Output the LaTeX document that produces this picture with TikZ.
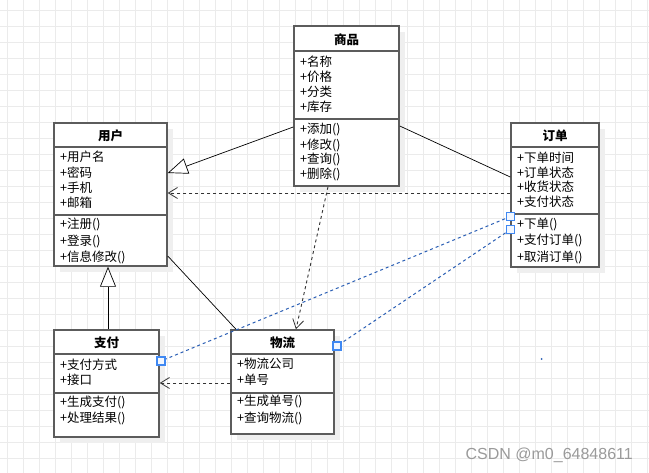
\documentclass[tikz,border=0pt]{standalone}
\usepackage{fontspec}
\newfontfamily\cjk{Noto Sans CJK SC}
\newfontfamily\wmfont{Liberation Sans}
\usetikzlibrary{arrows.meta,fit}

\definecolor{gridc}{HTML}{EBEBEB}
\definecolor{boxc}{HTML}{5C5C5C}
\definecolor{shadowc}{HTML}{EFEFEF}
\definecolor{selblue}{HTML}{2B5FB5}
\definecolor{handlec}{HTML}{3F88F2}
\definecolor{handlefill}{HTML}{F2F7FF}
\definecolor{wmc}{HTML}{9A9A9A}

% one class box: name, left, top, right, bottom, header line y, separator y, title
\newcommand\classbox[8]{%
  \fill[shadowc] (#2+6,#3+6) rectangle (#4+6,#5+6);
  \node[classframe, fit={(#2,#3) (#4,#5)}] (#1) {};
  \draw[classframe] (#1.west |- 0,#6) -- (#1.east |- 0,#6);
  \draw[classframe] (#1.west |- 0,#7) -- (#1.east |- 0,#7);
  \node[titletxt] (#1-title) at ({(#2+#4)/2},{(#3+#6)/2+1}) {#8};
}
% rows of members: prefix, x, list of text/centre-y
\newcommand\memberrows[3]{%
  \foreach \t/\yy [count=\i] in {#3}
    \node[rowtxt] (#1-\i) at (#2,\yy+4.7) {\t};
}

\begin{document}
\begin{tikzpicture}[x=1pt,y=-1pt,
  gridline/.style={draw=gridc, line width=0.8pt},
  classframe/.style={draw=boxc, line width=1.5pt, fill=white, inner sep=0pt},
  titletxt/.style={font=\cjk\bfseries\fontsize{12.5}{14}\selectfont, inner sep=0pt},
  rowtxt/.style={font=\cjk\fontsize{12.5}{14}\selectfont, anchor=base west, inner sep=0pt},
  assoc/.style={draw=black, line width=0.7pt},
  genarrow/.style={assoc, -{Triangle[length=20pt,width=16pt,fill=white,line width=0.7pt]}},
  dep/.style={draw=black!80, line width=0.9pt, dash pattern=on 3pt off 3pt,
    -{Straight Barb[length=9pt,width=11pt,line width=0.8pt]}},
  sel/.style={draw=selblue, line width=1pt, dash pattern=on 3pt off 3pt},
  handle/.style={draw=handlec, fill=handlefill, line width=1.3pt, minimum size=8pt,
    inner sep=0pt, rectangle},
  wm/.style={font=\wmfont\fontsize{16}{18}\selectfont, text=wmc, inner sep=0pt}]

\useasboundingbox (0,0) rectangle (649,473);
\fill[white] (0,0) rectangle (649,473);

% background grid
\foreach \gx in {7,23,...,647} \draw[gridline] (\gx,0) -- (\gx,473);
\foreach \gy in {10,26,...,470} \draw[gridline] (0,\gy) -- (649,\gy);

% class boxes
\classbox{goods}{294}{26}{399}{186}{51}{119}{商品}
\memberrows{goods-a}{300}{+名称/62,+价格/77,+分类/92,+库存/107}
\memberrows{goods-m}{300}{+添加()/129,+修改()/145,+查询()/159,+删除()/174}

\classbox{user}{54}{123}{167}{266}{147}{215}{用户}
\memberrows{user-a}{60}{+用户名/157,+密码/173,+手机/188,+邮箱/203}
\memberrows{user-m}{60}{+注册()/224,+登录()/241,+信息修改()/257}

\classbox{order}{511}{123}{599}{267}{147}{214}{订单}
\memberrows{order-a}{517}{+下单时间/158,+订单状态/173,+收货状态/187,+支付状态/202}
\memberrows{order-m}{517}{+下单()/224,+支付订单()/240,+取消订单()/257}

\classbox{pay}{54}{330}{159}{437}{354}{393}{支付}
\memberrows{pay-a}{60}{+支付方式/365,+接口/380}
\memberrows{pay-m}{60}{+生成支付()/402,+处理结果()/418}

\classbox{ship}{231}{330}{334}{434}{354}{393}{物流}
\memberrows{ship-a}{237}{+物流公司/364,+单号/380}
\memberrows{ship-m}{237}{+生成单号()/401,+查询物流()/418}

% relations
\draw[genarrow] (goods.west |- 0,127) -- (user.east |- 0,173);
\draw[genarrow] (pay.north -| 108,0) -- (user.south -| 108,0);
\draw[assoc] (goods.east |- 0,126) -- (order.west |- 0,177);
\draw[assoc] (user.east |- 0,256) -- (ship.north -| 236,0);
\draw[dep] (order.west |- 0,193) -- (user.east |- 0,193);
\draw[dep] (goods.south -| 328,0) -- (ship.north -| 296,0);
\draw[dep] (ship.west |- 0,383) -- (pay.east |- 0,383);

% selected links, then their end handles on top
\coordinate (e1) at (510.5,216.5);
\coordinate (e2) at (510.5,229.5);
\coordinate (e3) at (161,361);
\coordinate (e4) at (337,346);
\draw[sel] (e1) -- (e3);
\draw[sel] (e2) -- (e4);
\node[handle] (h1) at (e1) {};
\node[handle] (h2) at (e2) {};
\node[handle] (h3) at (e3) {};
\node[handle] (h4) at (e4) {};

% stray point
\fill[selblue] (541.5,359) circle (1pt);

% watermark
\node[wm, anchor=base east] (mark) at (633,460) {CSDN @m0\_64848611};
\end{tikzpicture}
\end{document}
